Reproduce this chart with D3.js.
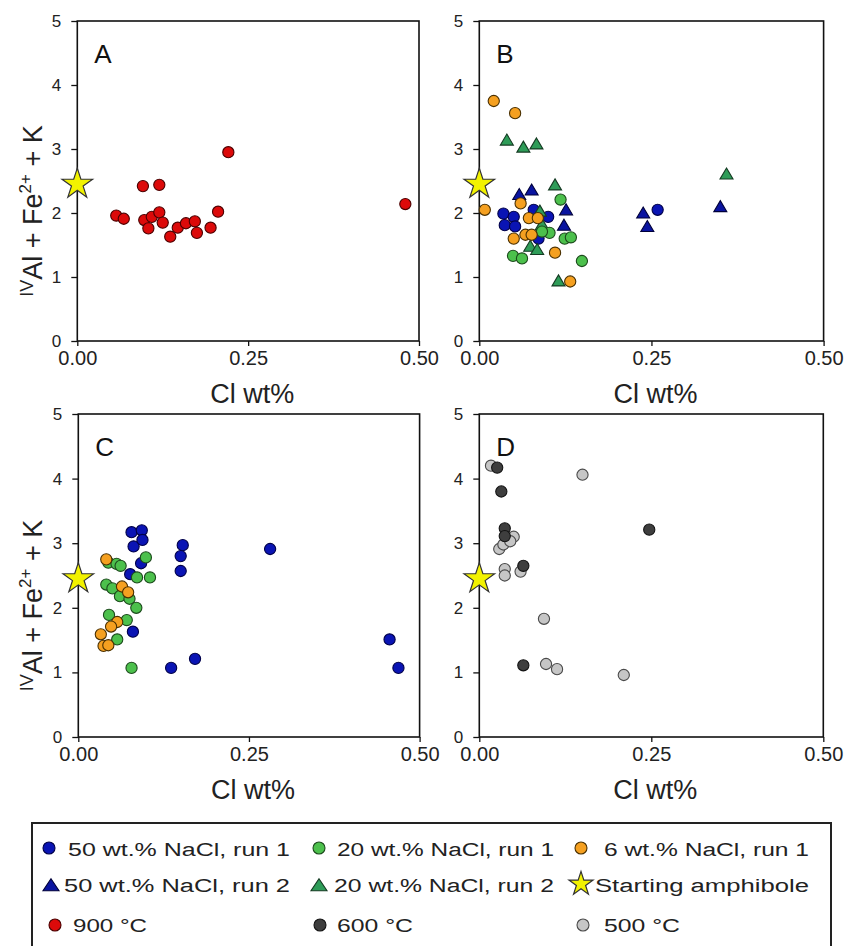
<!DOCTYPE html>
<html>
<head>
<meta charset="utf-8">
<script src="https://cdn.jsdelivr.net/npm/d3@7"></script>
<style>
  html, body { margin: 0; padding: 0; background: #fff; }
  svg { display: block; font-family: "Liberation Sans", Arial, sans-serif; }
</style>
</head>
<body>
<svg id="chart" width="844" height="946"></svg>
<script>
// ---- data: Cl wt% (x) vs IVAl + Fe2+ + K (y) ----
const xTicks = [0, 0.25, 0.5];
const yTicks = [0, 1, 2, 3, 4, 5];
const panelLetters = ["A", "B", "C", "D"];
const startingAmphibole = [[0, 2.45]];

// Panel A, 900 °C
const a900 = [
  [0.221, 2.95], [0.480, 2.14], [0.096, 2.42], [0.120, 2.44], [0.057, 1.96],
  [0.068, 1.91], [0.098, 1.89], [0.104, 1.76], [0.109, 1.94], [0.120, 2.01],
  [0.125, 1.85], [0.136, 1.63], [0.147, 1.77], [0.159, 1.84], [0.172, 1.87],
  [0.175, 1.69], [0.195, 1.77], [0.206, 2.02]
];

// Panel B
const bNaCl50run1 = [
  [0.035, 1.99], [0.037, 1.81], [0.050, 1.94], [0.052, 1.79], [0.079, 2.05],
  [0.100, 1.94], [0.086, 1.60], [0.259, 2.05]
];
const bNaCl50run2 = [
  [0.058, 2.28], [0.076, 2.35], [0.126, 2.04], [0.123, 1.80], [0.238, 1.99],
  [0.244, 1.78], [0.350, 2.09]
];
const bNaCl20run1 = [
  [0.118, 2.21], [0.102, 1.69], [0.124, 1.60], [0.133, 1.62], [0.149, 1.25],
  [0.049, 1.33], [0.062, 1.29], [0.091, 1.71]
];
const bNaCl20run2 = [
  [0.040, 3.13], [0.064, 3.02], [0.083, 3.07], [0.110, 2.43], [0.359, 2.60],
  [0.088, 2.02], [0.091, 1.81], [0.074, 1.47], [0.084, 1.42], [0.115, 0.93]
];
const bNaCl6run1 = [
  [0.021, 3.75], [0.052, 3.56], [0.008, 2.05], [0.060, 2.15], [0.072, 1.92],
  [0.085, 1.92], [0.050, 1.60], [0.067, 1.66], [0.076, 1.66], [0.110, 1.38],
  [0.132, 0.93]
];

// Panel C
const cNaCl50run1 = [
  [0.078, 3.17], [0.093, 3.20], [0.081, 2.95], [0.094, 3.05], [0.092, 2.69],
  [0.076, 2.52], [0.153, 2.97], [0.150, 2.80], [0.150, 2.57], [0.281, 2.91],
  [0.080, 1.63], [0.136, 1.07], [0.171, 1.21], [0.456, 1.51], [0.469, 1.07]
];
const cNaCl20run1 = [
  [0.044, 2.70], [0.056, 2.68], [0.062, 2.65], [0.099, 2.78], [0.086, 2.47],
  [0.105, 2.47], [0.041, 2.36], [0.050, 2.30], [0.061, 2.18], [0.075, 2.14],
  [0.085, 2.00], [0.045, 1.89], [0.071, 1.81], [0.057, 1.51], [0.078, 1.07]
];
const cNaCl6run1 = [
  [0.041, 2.75], [0.064, 2.33], [0.073, 2.24], [0.057, 1.78], [0.048, 1.71],
  [0.033, 1.59], [0.037, 1.41], [0.044, 1.42]
];

// Panel D
const d600 = [
  [0.026, 4.17], [0.032, 3.80], [0.037, 3.23], [0.037, 3.11], [0.064, 2.65],
  [0.247, 3.21], [0.064, 1.11]
];
const d500 = [
  [0.017, 4.20], [0.150, 4.06], [0.029, 2.91], [0.035, 2.98], [0.050, 3.10],
  [0.045, 3.03], [0.037, 2.60], [0.037, 2.50], [0.060, 2.56], [0.094, 1.83],
  [0.097, 1.13], [0.113, 1.05], [0.210, 0.96]
];

const legendLabels = [
  "50 wt.% NaCl, run 1", "20 wt.% NaCl, run 1", "6 wt.% NaCl, run 1",
  "50 wt.% NaCl, run 2", "20 wt.% NaCl, run 2", "Starting amphibole",
  "900 °C", "600 °C", "500 °C"
];

// ---- styles ----
const style = {
  red:     { shape: "circle",   fill: "#dc0a0a", stroke: "#4a0000" },
  blue:    { shape: "circle",   fill: "#0a14b4", stroke: "#00004a" },
  blueTri: { shape: "triangle", fill: "#0a14a0", stroke: "#00003a" },
  green:   { shape: "circle",   fill: "#4cc04c", stroke: "#1c4a1c" },
  greenTri:{ shape: "triangle", fill: "#2e9c58", stroke: "#143a22" },
  orange:  { shape: "circle",   fill: "#f5a020", stroke: "#4a3000" },
  dark:    { shape: "circle",   fill: "#3e3e3e", stroke: "#141414" },
  light:   { shape: "circle",   fill: "#c6c6c6", stroke: "#4a4a4a" },
  star:    { shape: "star",     fill: "#f2f200", stroke: "#333333" }
};

const panels = [
  { letter: panelLetters[0], x0: 77.3, x1: 419.0, y0: 21, y1: 341, yTitle: true,
    series: [[a900, style.red]] },
  { letter: panelLetters[1], x0: 479.3, x1: 823.6, y0: 21, y1: 341, yTitle: false,
    series: [[bNaCl50run1, style.blue], [bNaCl50run2, style.blueTri],
             [bNaCl20run2, style.greenTri], [bNaCl20run1, style.green],
             [bNaCl6run1, style.orange]] },
  { letter: panelLetters[2], x0: 78.3, x1: 419.6, y0: 414, y1: 737, yTitle: true,
    series: [[cNaCl50run1, style.blue], [cNaCl20run1, style.green],
             [cNaCl6run1, style.orange]] },
  { letter: panelLetters[3], x0: 479.3, x1: 823.3, y0: 414, y1: 737, yTitle: false,
    series: [[d500, style.light], [d600, style.dark]] }
];

const svg = d3.select("#chart");
svg.append("rect").attr("width", 844).attr("height", 946).attr("fill", "#fff");

function trianglePath(w, h) {
  return `M0,${-h * 0.6}L${w / 2},${h * 0.4}L${-w / 2},${h * 0.4}Z`;
}

function drawMark(g, st, cx, cy, size) {
  if (st.shape === "circle") {
    g.append("circle").attr("cx", cx).attr("cy", cy).attr("r", size.r)
      .attr("fill", st.fill).attr("stroke", st.stroke).attr("stroke-width", 1.1);
  } else if (st.shape === "triangle") {
    g.append("path").attr("d", trianglePath(size.tw, size.th))
      .attr("transform", `translate(${cx},${cy})`)
      .attr("fill", st.fill).attr("stroke", st.stroke).attr("stroke-width", 1.1);
  } else {
    g.append("path").attr("d", d3.symbol(d3.symbolStar, size.star)())
      .attr("transform", `translate(${cx},${cy})`)
      .attr("fill", st.fill).attr("stroke", st.stroke).attr("stroke-width", 1.2);
  }
}

const markSize = { r: 5.6, tw: 13, th: 11, star: 290 };

panels.forEach(p => {
  const x = d3.scaleLinear().domain([0, 0.5]).range([p.x0, p.x1]);
  const y = d3.scaleLinear().domain([0, 5]).range([p.y1, p.y0]);
  const g = svg.append("g");

  // y axis
  const ya = g.append("g").attr("transform", `translate(${p.x0},0)`)
    .call(d3.axisLeft(y).tickValues(yTicks).tickSize(6).tickPadding(10).tickFormat(d3.format("d")));
  ya.select(".domain").remove();
  ya.selectAll("line").attr("stroke", "#111").attr("stroke-width", 1.3);
  ya.selectAll("text").attr("font-size", 17).attr("fill", "#222")
    .attr("font-family", "Liberation Sans, Arial, sans-serif");

  // x axis
  const xa = g.append("g").attr("transform", `translate(0,${p.y1})`)
    .call(d3.axisBottom(x).tickValues(xTicks).tickSize(5).tickPadding(5).tickFormat(d3.format(".2f")));
  xa.select(".domain").remove();
  xa.selectAll("line").attr("stroke", "#111").attr("stroke-width", 1.3);
  xa.selectAll("text").attr("font-size", 20).attr("fill", "#222")
    .attr("font-family", "Liberation Sans, Arial, sans-serif");

  // plot frame
  g.append("rect").attr("x", p.x0).attr("y", p.y0)
    .attr("width", p.x1 - p.x0).attr("height", p.y1 - p.y0)
    .attr("fill", "none").attr("stroke", "#111").attr("stroke-width", 1.6);

  // panel letter
  g.append("text").attr("x", p.x0 + 17).attr("y", p.y0 + 42)
    .attr("font-size", 26).attr("fill", "#111").text(p.letter);

  // x title
  g.append("text").attr("x", (p.x0 + p.x1) / 2 + 4).attr("y", p.y1 + 62)
    .attr("text-anchor", "middle").attr("font-size", 27).attr("fill", "#222")
    .text("Cl wt%");

  // y title
  if (p.yTitle) {
    const t = g.append("text")
      .attr("transform", `translate(42,${(p.y0 + p.y1) / 2 + 30}) rotate(-90)`)
      .attr("text-anchor", "middle").attr("font-size", 27).attr("fill", "#222");
    t.append("tspan").attr("font-size", 18).attr("dy", -9).text("IV");
    t.append("tspan").attr("dy", 9).text("Al + Fe");
    t.append("tspan").attr("font-size", 17).attr("dy", -11).text("2+");
    t.append("tspan").attr("dy", 11).text(" + K");
  }

  // data marks
  const mg = g.append("g");
  p.series.forEach(([data, st]) => {
    data.forEach(d => drawMark(mg, st, x(d[0]), y(d[1]), markSize));
  });
  startingAmphibole.forEach(d => drawMark(mg, style.star, x(d[0]), y(d[1]), markSize));
});

// ---- legend ----
const lg = svg.append("g");
lg.append("rect").attr("x", 32).attr("y", 823).attr("width", 799).attr("height", 140)
  .attr("fill", "#fff").attr("stroke", "#222").attr("stroke-width", 2);

const legendItems = [
  { st: style.blue,     mx: 49,  my: 848, tx: 68,  ty: 856, tl: 222 },
  { st: style.green,    mx: 319, my: 848, tx: 337, ty: 856, tl: 217 },
  { st: style.orange,   mx: 581, my: 848, tx: 604, ty: 856, tl: 205 },
  { st: style.blueTri,  mx: 51,  my: 886, tx: 64,  ty: 892, tl: 226 },
  { st: style.greenTri, mx: 319, my: 886, tx: 334, ty: 892, tl: 220 },
  { st: style.star,     mx: 581, my: 884, tx: 595, ty: 892, tl: 214 },
  { st: style.red,      mx: 55,  my: 925, tx: 73,  ty: 932, tl: 74 },
  { st: style.dark,     mx: 320, my: 925, tx: 337, ty: 932, tl: 76 },
  { st: style.light,    mx: 583, my: 925, tx: 604, ty: 932, tl: 76 }
];
const legendSize = { r: 6, tw: 16, th: 12, star: 180 };
legendItems.forEach((it, i) => {
  drawMark(lg, it.st, it.mx, it.my, legendSize);
  lg.append("text").attr("x", it.tx).attr("y", it.ty)
    .attr("font-size", 18).attr("fill", "#222")
    .attr("textLength", it.tl).attr("lengthAdjust", "spacingAndGlyphs")
    .text(legendLabels[i]);
});
</script>
</body>
</html>
